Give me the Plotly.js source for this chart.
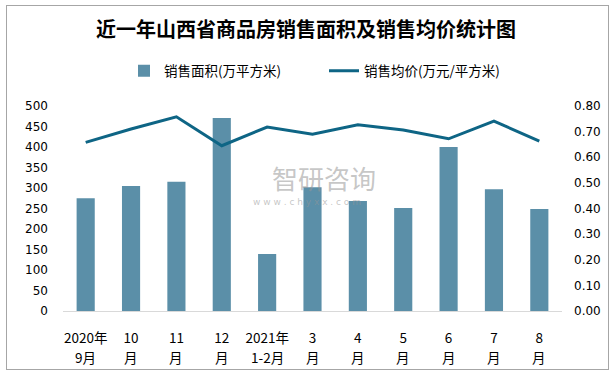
<!DOCTYPE html>
<html>
<head>
<meta charset="utf-8">
<script src="https://cdn.plot.ly/plotly-3.0.1.min.js"></script>
<style>
  html, body { margin: 0; padding: 0; background: #fff; }
  #wrap { position: relative; width: 612px; height: 372px; }
  #chart { width: 612px; height: 372px; }
  #frame { position: absolute; left: 6px; top: 5px; width: 601px; height: 363px;
           border: 1px solid #a6a6a6; pointer-events: none; }
</style>
</head>
<body>
<div id="wrap">
  <div id="chart"></div>
  <div id="frame"></div>
</div>
<script>
const categories = ["2020年", "10", "11", "12", "2021年", "3", "4", "5", "6", "7", "8"];
const categorySubLabels = ["9月", "月", "月", "月", "1-2月", "月", "月", "月", "月", "月", "月"];
const salesArea = [275, 305, 315, 471, 139, 302, 268, 251, 400, 297, 249];
const avgPrice = [0.658, 0.710, 0.758, 0.645, 0.718, 0.690, 0.727, 0.706, 0.672, 0.741, 0.663];
const yLeftTicks = [0, 50, 100, 150, 200, 250, 300, 350, 400, 450, 500];
const yRightTicks = [0, 0.1, 0.2, 0.3, 0.4, 0.5, 0.6, 0.7, 0.8];

const cjk = '"Noto Sans CJK SC", "DejaVu Sans", sans-serif';
const num = '"DejaVu Sans", "Noto Sans CJK SC", sans-serif';

const traces = [
  {
    type: 'bar', x: categories, y: salesArea, name: '销售面积(万平方米)',
    marker: { color: '#5b8fa8' }, yaxis: 'y'
  },
  {
    type: 'scatter', mode: 'lines', x: categories, y: avgPrice, name: '销售均价(万元/平方米)',
    line: { color: '#0e6585', width: 3 }, yaxis: 'y2'
  }
];

// second line of each category label, placed at the category's index on the x axis
const subAnnotations = categorySubLabels.map((t, i) => ({
  xref: 'x', yref: 'paper', x: i, y: (311 - 357) / 205, yanchor: 'middle',
  text: t, showarrow: false, borderpad: 0,
  font: { family: cjk, size: 13.5, color: '#000' }
}));

const layout = {
  width: 612, height: 372,
  margin: { l: 63, r: 50, t: 106, b: 61 },
  paper_bgcolor: '#fff', plot_bgcolor: '#fff',
  bargap: 0.6,
  showlegend: true,
  title: { text: '<b>近一年山西省商品房销售面积及销售均价统计图</b>',
           font: { family: cjk, size: 20, color: '#000' },
           x: 0.5, xanchor: 'center', y: 1 - 30/372, yanchor: 'middle', yref: 'container' },
  legend: { orientation: 'h', x: (124 - 63) / 499, xanchor: 'left', y: 1 - 71/372, yanchor: 'middle',
            yref: 'container', font: { family: cjk, size: 13.5, color: '#000' },
            entrywidth: 155, entrywidthmode: 'pixels', tracegroupgap: 0 },
  xaxis: {
    type: 'category', categoryorder: 'array', categoryarray: categories,
    showgrid: false, zeroline: false,
    showline: true, linecolor: '#d9d9d9', linewidth: 1,
    ticks: '', tickfont: { family: cjk, size: 13.5, color: '#000' },
    ticklabelstandoff: 15,
    tickangle: 0, fixedrange: true
  },
  yaxis: {
    range: [0, 500], tickvals: yLeftTicks, showgrid: false, zeroline: false,
    showline: false, ticks: '', tickfont: { family: num, size: 12, color: '#000' },
    ticklabelstandoff: 14,
    fixedrange: true
  },
  yaxis2: {
    range: [0, 0.8], tickvals: yRightTicks, tickformat: '.2f', overlaying: 'y', side: 'right',
    showgrid: false, zeroline: false, showline: false, ticks: '',
    ticklabelstandoff: 11,
    tickfont: { family: num, size: 12, color: '#000' }, fixedrange: true
  },
  annotations: [
    { xref: 'paper', yref: 'paper', x: (324 - 63) / 499, y: (311 - 177) / 205,
      text: '智研咨询', showarrow: false, borderpad: 0,
      font: { family: cjk, size: 26, color: 'rgba(150,150,150,0.55)' } },
    { xref: 'paper', yref: 'paper', x: (307 - 63) / 499, y: (311 - 202) / 205,
      text: 'w w w . c h y x x . c o m', showarrow: false, borderpad: 0,
      font: { family: num, size: 9, color: 'rgba(150,150,150,0.55)' } }
  ].concat(subAnnotations)
};

Plotly.newPlot('chart', traces, layout, { displayModeBar: false, staticPlot: true });
</script>
</body>
</html>
